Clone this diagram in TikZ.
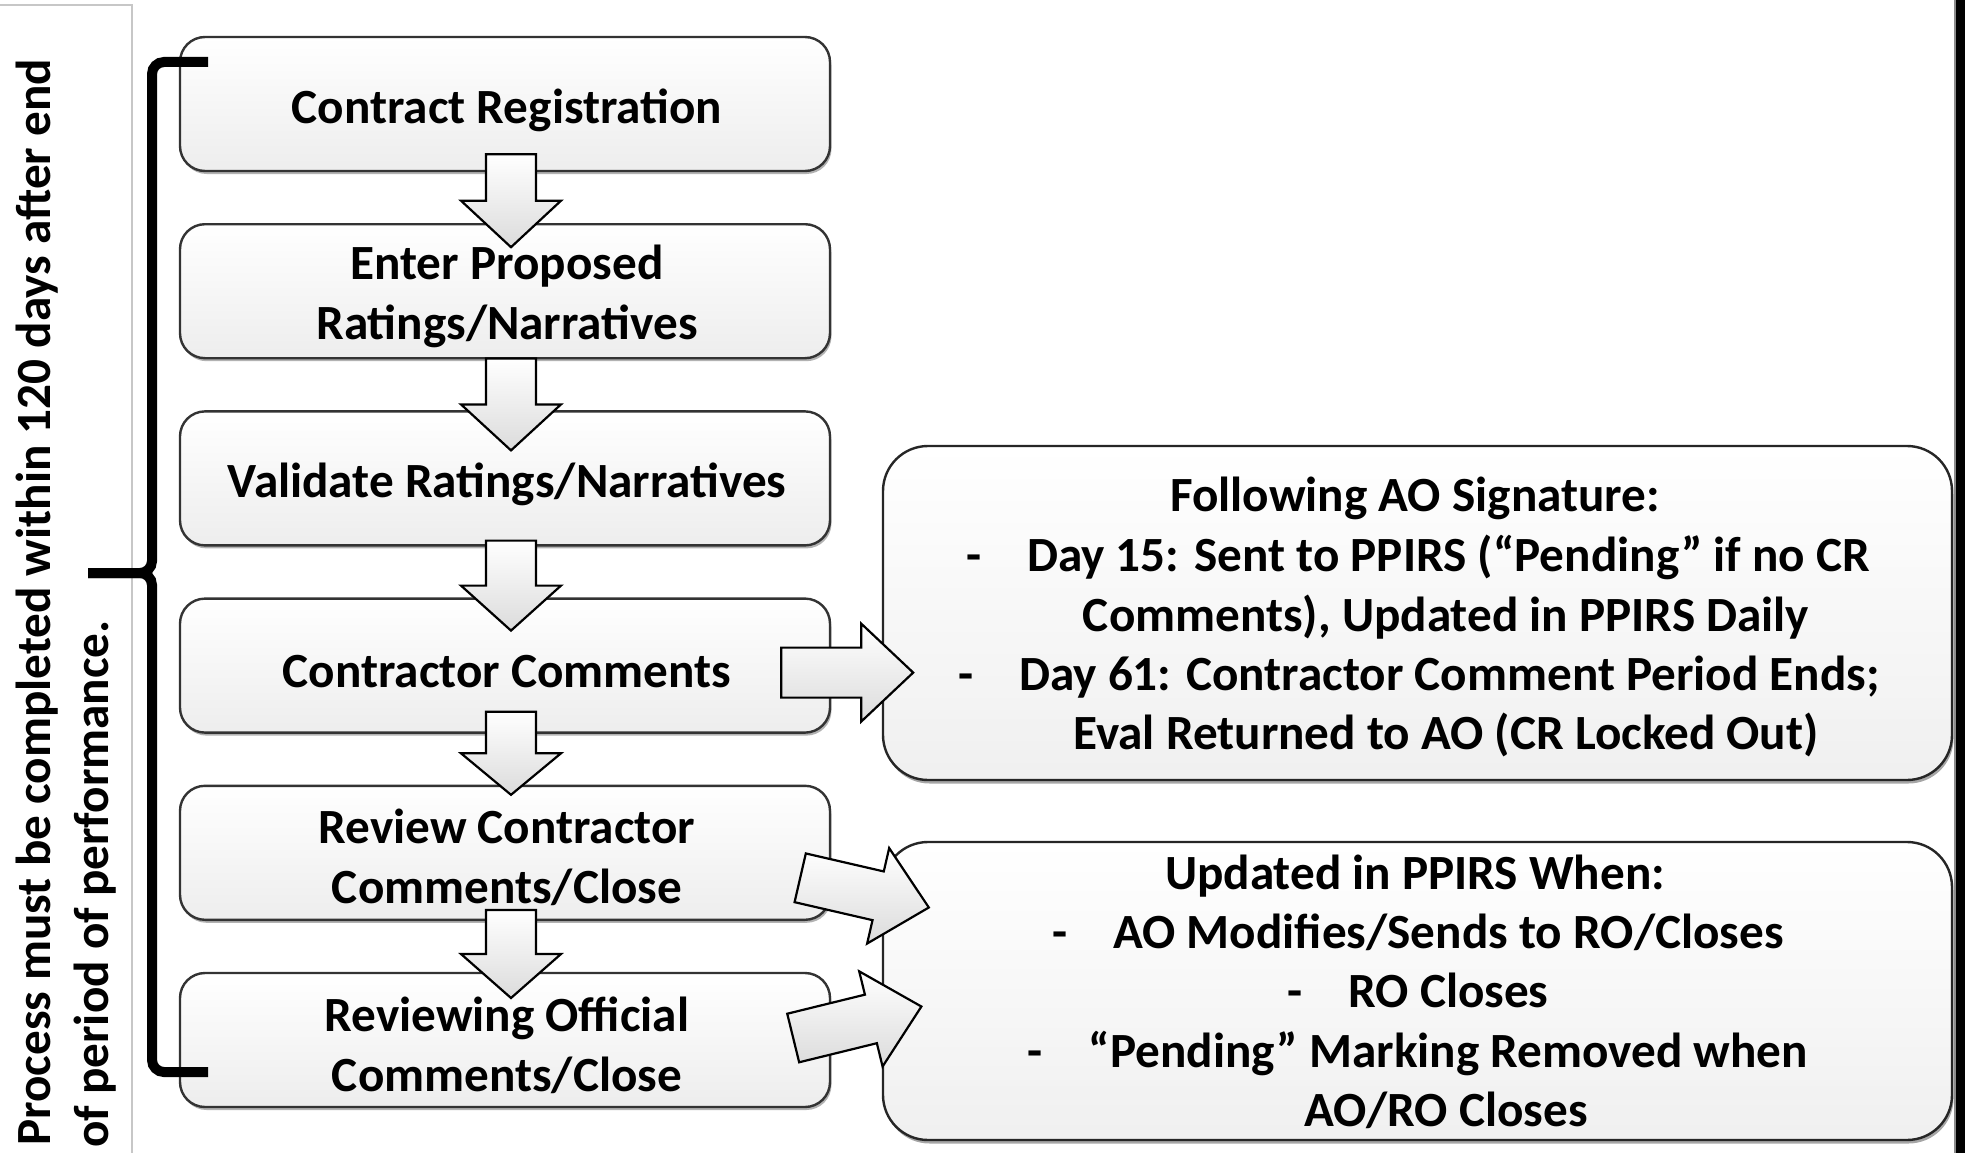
\documentclass[tikz,border=0pt]{standalone}
\usepackage{fontspec}
\setmainfont{Carlito}
\usetikzlibrary{calc,shadows}
\newcommand{\mfont}{\fontsize{49.2}{60}\selectfont\bfseries}
\tikzset{
  lbox/.style={draw=black!80, line width=2.4pt, rounded corners=25pt,
    minimum width=650pt, minimum height=134pt, inner sep=0pt,
    top color=white, bottom color=black!7,
    drop shadow={shadow xshift=1.5pt, shadow yshift=-3pt, fill=black, opacity=0.3}},
  ltext/.style={align=center, inner sep=0pt, font=\mfont},
  rbox/.style={draw=black!85, line width=2.4pt, rounded corners=45pt,
    minimum width=1069pt, inner sep=0pt,
    top color=white, bottom color=black!6,
    drop shadow={shadow xshift=1.5pt, shadow yshift=-3.5pt, fill=black, opacity=0.35}},
  rtext/.style={anchor=base, inner sep=0pt, font=\mfont},
  barrow/.style={draw=black, line width=2.2pt, line join=miter,
    top color=white, bottom color=black!14},
  bracestroke/.style={draw=black, line width=10pt, rounded corners=12pt},
}
% down block arrow: start node, vertical offset of top from its south anchor, total length
\newcommand{\darr}[3]{%
  \path[barrow] ($(#1.south)+(6,#2)$) ++(-25,0) -- ++(50,0) -- ++(0,#3/2)
     -- ++(25,0) -- ++(-50,#3/2) -- ++(-50,-#3/2) -- ++(25,0) -- cycle;}
\begin{document}
\begin{tikzpicture}[x=1pt, y=-1pt]
\useasboundingbox (0,0) rectangle (1965,1153);
% frame lines
\draw[black!22, line width=2pt] (0,5) -- (132,5) -- (132,1153);
\fill[black] (1955,0) rectangle (1965,1153);
\draw[black!45, line width=1.5pt] (1955,0) -- (1955,1153);

% vertical text
\node[rotate=90, anchor=base west, inner sep=0pt, font=\mfont] (v1) at (50,1146)
  {Process must be completed within 120 days after end};
\node[rotate=90, anchor=base west, inner sep=0pt, font=\mfont] (v2) at (108,1148)
  {of period of performance.};

% left process boxes
\node[lbox] (b1) at (505,104)   {};
\node[lbox] (b2) at (505,291.2) {};
\node[lbox] (b3) at (505,478.4) {};
\node[lbox] (b4) at (505,665.6) {};
\node[lbox] (b5) at (505,852.8) {};
\node[lbox] (b6) at (505,1040)  {};

% right boxes
\node[rbox, minimum height=334pt] (A) at (1417.5,613) {};
\node[rbox, minimum height=298pt] (B) at (1417.5,991) {};

% down block arrows
\darr{b1}{-18}{93}
\darr{b2}{-1}{92}
\darr{b3}{-6}{90}
\darr{b4}{-22}{83}
\darr{b5}{-11}{88}

% right block arrows
\begin{scope}[shift={($(b4.east)+(-50,7)$)}]
  \path[barrow] (0,-25) -- (80,-25) -- (80,-49) -- (132,0) -- (80,49) -- (80,25) -- (0,25) -- cycle;
\end{scope}
\begin{scope}[shift={($(b5.east)+(-31,25)$)}, rotate=-13]
  \path[barrow] (0,-25) -- (80,-25) -- (80,-49) -- (132,0) -- (80,49) -- (80,25) -- (0,25) -- cycle;
\end{scope}
\begin{scope}[shift={($(b6.east)+(-38,-2)$)}, rotate=13.8]
  \path[barrow] (0,-25) -- (80,-25) -- (80,-49) -- (132,0) -- (80,49) -- (80,25) -- (0,25) -- cycle;
\end{scope}

% texts
\node[ltext] (t1) at ($(b1.center)+(2,6)$) {Contract Registration};
\node[ltext] (t2) at ($(b2.center)+(2,5)$) {Enter Proposed\\Ratings/Narratives};
\node[ltext] (t3) at ($(b3.center)+(2,6)$) {Validate Ratings/Narratives};
\node[ltext] (t4) at ($(b4.center)+(2,6)$) {Contractor Comments};
\node[ltext] (t5) at ($(b5.center)+(2,5)$) {Review Contractor\\Comments/Close};
\node[ltext] (t6) at ($(b6.center)+(2,5)$) {Reviewing Official\\Comments/Close};

\node[rtext] (a1) at (1415,511) {Following AO Signature:};
\node[rtext] (a2) at (1418,571) {-\hspace{46pt}Day 15: Sent to PPIRS (“Pending” if no CR};
\node[rtext] (a3) at (1446,631) {Comments), Updated in PPIRS Daily};
\node[rtext] (a4) at (1419,690) {-\hspace{46pt}Day 61: Contractor Comment Period Ends;};
\node[rtext] (a5) at (1446,749) {Eval Returned to AO (CR Locked Out)};

\node[rtext] (c1) at (1415,889) {Updated in PPIRS When:};
\node[rtext] (c2) at (1418,948) {-\hspace{46pt}AO Modifies/Sends to RO/Closes};
\node[rtext] (c3) at (1418,1007) {-\hspace{46pt}RO Closes};
\node[rtext] (c4) at (1418,1067) {-\hspace{46pt}“Pending” Marking Removed when};
\node[rtext] (c5) at (1446,1126) {AO/RO Closes};

% brace
\coordinate (bt) at (208,62);
\coordinate (bm) at (88,573);
\coordinate (bb) at (208,1072);
\path[bracestroke] (bt) -- (152,62) -- (152,573) -- (bm);
\path[bracestroke] (bm) -- (152,573) -- (152,1072) -- (bb);
\end{tikzpicture}
\end{document}
